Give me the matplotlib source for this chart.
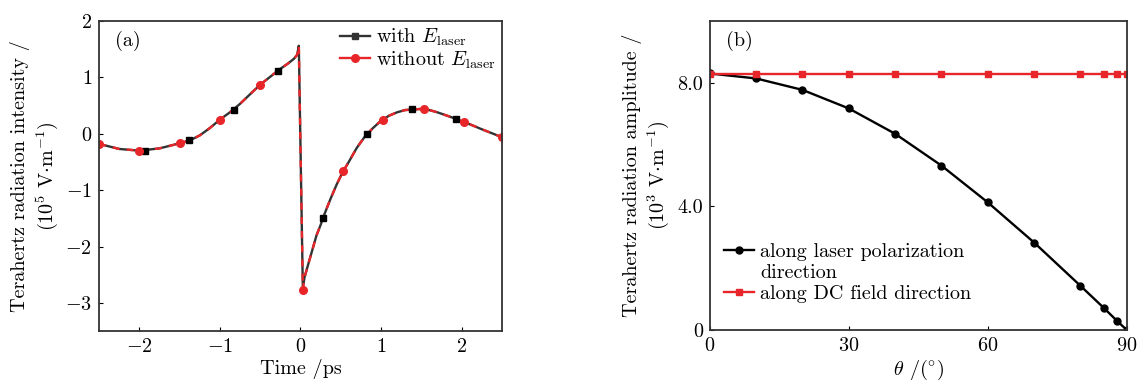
import matplotlib
matplotlib.use("Agg")
import matplotlib.pyplot as plt
from matplotlib.lines import Line2D

plt.rcParams['font.family'] = 'serif'
plt.rcParams['font.serif'] = ['cmr10']
plt.rcParams['mathtext.fontset'] = 'cm'
plt.rcParams['axes.formatter.use_mathtext'] = True
plt.rcParams['font.size'] = 14.5

# (a) terahertz waveform
t_curve = [-2.5, -2.25, -2.0, -1.75, -1.5, -1.375, -1.25, -1.125, -1.0, -0.875,
           -0.75, -0.625, -0.5, -0.375, -0.25, -0.15, -0.08, -0.04, -0.02, 0.03,
           0.05, 0.1, 0.15, 0.2, 0.25, 0.3, 0.375, 0.45, 0.525, 0.6,
           0.7, 0.8, 0.9, 1.0, 1.1, 1.2, 1.3, 1.4, 1.5, 1.6,
           1.7, 1.8, 1.9, 2.0, 2.1, 2.25, 2.375, 2.5]
e_curve = [-0.18, -0.27, -0.30, -0.26, -0.17, -0.12, -0.03, 0.10, 0.25, 0.38,
           0.53, 0.70, 0.87, 1.01, 1.15, 1.25, 1.33, 1.40, 1.56, -2.75,
           -2.55, -2.3, -2.05, -1.8, -1.62, -1.42, -1.15, -0.9, -0.68, -0.5,
           -0.25, -0.05, 0.1, 0.23, 0.32, 0.38, 0.42, 0.43, 0.44, 0.42,
           0.38, 0.33, 0.28, 0.22, 0.17, 0.08, 0.01, -0.06]

t_sq = [-1.93, -1.38, -0.83, -0.28, 0.28, 0.83, 1.38, 1.93]
e_sq = [-0.30, -0.12, 0.42, 1.12, -1.49, 0.0, 0.43, 0.27]
t_ci = [-2.5, -2.0, -1.5, -1.0, -0.5, 0.03, 0.53, 1.03, 1.53, 2.03, 2.5]
e_ci = [-0.18, -0.30, -0.17, 0.25, 0.87, -2.77, -0.66, 0.25, 0.43, 0.2, -0.06]

# (b) amplitude vs angle
theta = [0, 10, 20, 30, 40, 50, 60, 70, 80, 85, 88, 90]
amp_laser = [8.3, 8.14, 7.77, 7.17, 6.35, 5.32, 4.13, 2.83, 1.43, 0.72, 0.28, 0.0]
amp_dc = [8.28] * len(theta)

fig = plt.figure(figsize=(11.41, 3.81), dpi=100)
ax1 = fig.add_axes([0.0868, 0.131, 0.353, 0.814])
ax2 = fig.add_axes([0.622, 0.134, 0.3655, 0.811])

ax1.plot(t_curve, e_curve, color='#333333', lw=1.7)
ax1.plot(t_curve, e_curve, color='#e8262a', lw=1.7, ls=(0, (3, 3)))
ax1.plot(t_sq, e_sq, 's', color='black', ms=5, ls='none')
ax1.plot(t_ci, e_ci, 'o', color='#e8262a', ms=5.5, ls='none')
ax1.set_xlim(-2.5, 2.5)
ax1.set_ylim(-3.5, 2)
ax1.set_xticks([-2, -1, 0, 1, 2])
ax1.set_yticks([-3, -2, -1, 0, 1, 2])
ax1.set_xlabel('Time /ps', labelpad=2)
ax1.set_ylabel('Terahertz radiation intensity /\n($10^5$ V$\\cdot$m$^{-1}$)', linespacing=1.2)
ax1.text(0.04, 0.935, '(a)', transform=ax1.transAxes, va='center')
h1 = [Line2D([], [], color='#333333', marker='s', ms=5, lw=1.7),
      Line2D([], [], color='#e8262a', marker='o', ms=5.5, lw=1.7)]
ax1.legend(h1, ['with $E_{\\rm laser}$', 'without $E_{\\rm laser}$'], loc='upper right',
           frameon=False, handlelength=1.5, handletextpad=0.3, borderaxespad=0.1,
           labelspacing=0.05, borderpad=0.2)

ax2.plot(theta, amp_laser, '-o', color='black', ms=5, lw=1.7)
ax2.plot(theta, amp_dc, '-s', color='#e8262a', ms=5, lw=1.7)
ax2.set_xlim(0, 90)
ax2.set_ylim(0, 10)
ax2.set_xticks([0, 30, 60, 90])
ax2.set_yticks([0, 4, 8])
ax2.set_yticklabels(['0', '4.0', '8.0'])
ax2.set_xlabel('$\\theta$ /$(^{\\circ})$', labelpad=2)
ax2.set_ylabel('Terahertz radiation amplitude /\n($10^3$ V$\\cdot$m$^{-1}$)', linespacing=1.2)
ax2.text(0.04, 0.935, '(b)', transform=ax2.transAxes, va='center')
h2 = [Line2D([], [], color='black', marker='o', ms=5, lw=1.7),
      Line2D([], [], color='none'),
      Line2D([], [], color='#e8262a', marker='s', ms=5, lw=1.7)]
ax2.legend(h2, ['along laser polarization', 'direction', 'along DC field direction'],
           loc='lower left', bbox_to_anchor=(0.0, 0.04), frameon=False,
           handlelength=1.5, handletextpad=0.3, labelspacing=0.15, borderpad=0.2)

for ax in (ax1, ax2):
    ax.tick_params(direction='in', length=3, top=False, right=False, pad=5)
    for s in ax.spines.values():
        s.set_linewidth(1.3)
        s.set_color('#333333')

fig.savefig('out.png', dpi=100)
